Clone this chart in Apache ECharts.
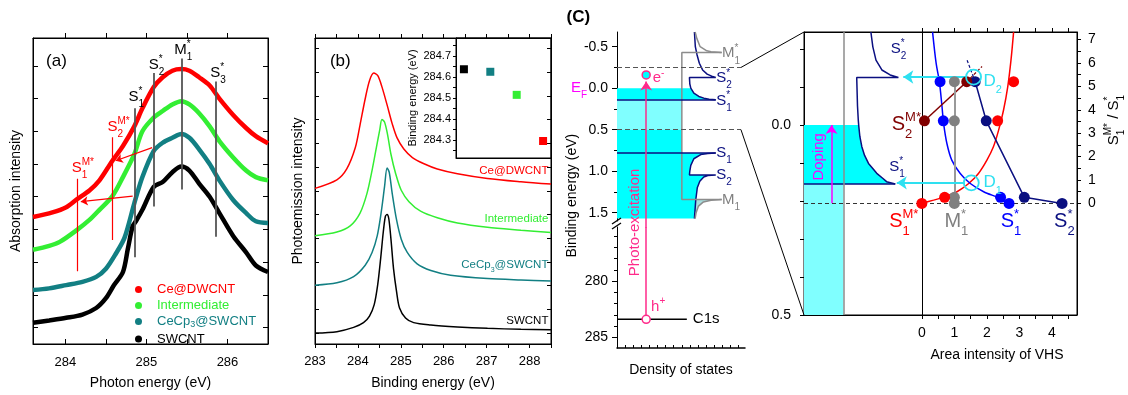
<!DOCTYPE html>
<html>
<head>
<meta charset="utf-8">
<script src="https://cdn.jsdelivr.net/npm/echarts@6/dist/echarts.min.js"></script>
<style>html,body{margin:0;padding:0;background:#fff;}#chart{width:1128px;height:395px;}</style>
</head>
<body>
<div id="chart"></div>
<script>
const FONT = '"Liberation Sans", Arial, Helvetica, sans-serif';

// ===== Panel (a): C K-edge absorption spectra [photon energy (eV), intensity (offset, arb.)] =====
const absCeDWCNT = [[283.60,3.38],[283.84,3.52],[284.01,3.68],[284.14,3.92],[284.30,4.20],[284.42,4.50],[284.58,5.10],[284.71,5.55],[284.85,6.15],[284.95,6.70],[285.09,7.35],[285.20,7.65],[285.32,7.85],[285.43,7.90],[285.53,7.85],[285.65,7.65],[285.78,7.40],[285.90,7.00],[286.07,6.50],[286.23,6.10],[286.35,5.85],[286.50,5.63]];
const absIntermediate = [[283.60,2.38],[283.80,2.50],[283.93,2.62],[284.14,2.98],[284.30,3.30],[284.42,3.60],[284.58,4.02],[284.71,4.60],[284.85,5.30],[284.95,6.00],[285.09,6.42],[285.20,6.62],[285.32,6.82],[285.43,6.92],[285.53,6.82],[285.65,6.55],[285.78,6.15],[285.90,5.70],[286.07,5.20],[286.23,4.80],[286.35,4.60],[286.50,4.50]];
const absCeCp3 = [[283.60,1.15],[283.80,1.20],[284.01,1.30],[284.21,1.40],[284.38,1.55],[284.50,1.80],[284.62,2.25],[284.73,2.75],[284.85,3.80],[284.95,4.60],[285.09,5.40],[285.20,5.65],[285.32,5.80],[285.43,5.92],[285.53,5.80],[285.65,5.45],[285.78,5.00],[285.90,4.50],[286.07,3.90],[286.23,3.50],[286.35,3.25],[286.50,3.20]];
const absSWCNT = [[283.60,0.15],[283.80,0.22],[284.01,0.30],[284.21,0.40],[284.38,0.60],[284.50,0.90],[284.60,1.30],[284.71,1.70],[284.77,2.40],[284.83,3.10],[284.87,3.25],[284.95,3.60],[285.09,4.30],[285.20,4.45],[285.32,4.75],[285.43,4.92],[285.53,4.80],[285.65,4.40],[285.78,4.00],[285.90,3.50],[286.07,2.80],[286.23,2.30],[286.35,1.90],[286.50,1.70]];
const absMarkS = [[284.85,2.15,6.70],[285.09,3.70,7.78],[285.43,4.22,8.22],[285.85,2.78,7.52]];
const absMarkSM = [[284.14,1.72,4.55],[284.58,2.68,5.82]];
const absShift = [[285.07,5.50,284.62,5.10],[284.83,4.02,284.19,3.85]];
const absXTicks = [284,284.5,285,285.5,286];
const absXLabels = [284,285,286];
const absYTicks = [0,1,2,3,4,5,6,7,8];

// ===== Panel (b): C1s photoemission [binding energy (eV), intensity (offset, arb.)] =====
const xpsCeDWCNT = [[283.00,3.05],[283.51,3.23],[283.74,3.46],[283.94,3.91],[284.05,4.39],[284.17,4.94],[284.27,5.32],[284.37,5.48],[284.46,5.43],[284.56,5.19],[284.68,4.81],[284.80,4.41],[284.91,4.12],[285.07,3.88],[285.27,3.70],[285.54,3.57],[285.85,3.46],[286.32,3.36],[287.02,3.26],[287.80,3.19],[288.50,3.14]];
const xpsIntermediate = [[283.00,2.05],[283.51,2.13],[283.82,2.26],[284.05,2.53],[284.21,2.94],[284.33,3.43],[284.43,3.91],[284.51,4.29],[284.56,4.50],[284.62,4.45],[284.69,4.19],[284.77,3.77],[284.88,3.36],[285.01,3.01],[285.19,2.77],[285.46,2.57],[285.85,2.43],[286.32,2.32],[287.02,2.23],[287.80,2.17],[288.50,2.12]];
const xpsCeCp3 = [[283.00,1.01],[283.51,1.06],[283.90,1.19],[284.17,1.43],[284.33,1.70],[284.45,2.05],[284.54,2.53],[284.62,3.08],[284.68,3.48],[284.73,3.39],[284.80,2.94],[284.90,2.39],[285.01,1.98],[285.15,1.70],[285.38,1.46],[285.70,1.32],[286.16,1.22],[287.02,1.15],[287.80,1.12],[288.50,1.10]];
const xpsSWCNT = [[283.00,0.00],[283.51,0.03],[283.90,0.12],[284.13,0.22],[284.27,0.36],[284.38,0.60],[284.46,1.01],[284.53,1.57],[284.59,2.12],[284.64,2.46],[284.68,2.50],[284.72,2.41],[284.77,1.98],[284.83,1.36],[284.90,0.88],[284.97,0.53],[285.11,0.32],[285.30,0.22],[285.70,0.17],[286.32,0.13],[287.02,0.10],[287.80,0.08],[288.50,0.07]];
const xpsXLabels = [283,284,285,286,287,288];
const xpsXTicks = [283,283.5,284,284.5,285,285.5,286,286.5,287,287.5,288,288.5];
const xpsYTicks = [0,0.5,1,1.5,2,2.5,3,3.5,4,4.5,5,5.5,6];
// inset: C1s peak position per sample
const insetSamples = ['SWCNT','CeCp3@SWCNT','Intermediate','Ce@DWCNT'];
const insetPeak = [284.637, 284.625, 284.515, 284.295];
const insetYLabels = [284.3,284.4,284.5,284.6,284.7];
const insetYTicks = [284.25,284.3,284.35,284.4,284.45,284.5,284.55,284.6,284.65,284.7,284.75];

// ===== Panel (C) left: schematic DOS [DOS (arb.), binding energy (eV)] =====
const schemCond = [[1.194,-0.677],[1.208,-0.5],[1.235,-0.4],[1.27,-0.3],[1.32,-0.22],[1.39,-0.17],[1.46,-0.145],[1.523,-0.13],[1.117,-0.13],[1.123,-0.05],[1.138,0.0],[1.185,0.06],[1.262,0.1],[1.34,0.12],[1.42,0.133],[1.523,0.14]];
const schemVal = [[1.523,0.78],[1.40,0.787],[1.292,0.80],[1.185,0.85],[1.138,0.93],[1.123,1.0],[1.117,1.045],[1.523,1.045],[1.40,1.053],[1.338,1.07],[1.277,1.12],[1.238,1.2],[1.214,1.35],[1.194,1.57]];
const schemMetal = [[1.615,-0.43],[1,-0.43],[1,1.34],[1.615,1.34]];
const schemMetalTop = [[1.615,-0.43],[1.45,-0.44],[1.385,-0.45],[1.282,-0.5],[1.231,-0.6],[1.205,-0.677]];
const schemMetalBot = [[1.615,1.34],[1.45,1.35],[1.333,1.37],[1.257,1.42],[1.22,1.5],[1.205,1.57]];
const schemLevelS1s = 0.14, schemLevelS1 = 0.78, schemFermi = 0.0, schemBottom = 1.57;
const schemWindow = [-0.25, 0.5];
const schemC1s = 283.4;
const schemExcite = [-0.08, -0.16];  // arrow tip, excited electron
const schemYLabels = [-0.5,0,0.5,1,1.5];
const schemYMinor = [-0.25,0.25,0.75,1.25];
const lowYLabels = [280,285];
const lowYMinor = [276,277,278,279,281,282,283,284];

// ===== Panel (C) right: zoomed DOS + VHS area intensities =====
const zoomNavy = [[1.70,-0.245],[1.75,-0.206],[1.83,-0.171],[1.98,-0.145],[2.19,-0.132],[2.40,-0.125],[1.34,-0.125],[1.36,-0.05],[1.38,-0.013],[1.39,0.0],[1.42,0.03],[1.47,0.057],[1.54,0.08],[1.64,0.101],[1.85,0.127],[2.0,0.14],[2.10,0.149],[2.32,0.155]];
const zoomS1s = 0.155, zoomDopeFrom = 0.206;
const zoomYLabels = [0,0.5];
const zoomYTicks = [-0.2,-0.1,0,0.1,0.2,0.3,0.4,0.5];
const vhsRatio = [0, 0.26, 3.53, 5.2];            // S1M*/S1* of the four samples
const areaS1M = [0, 0.70, 2.33, 2.82];
const areaS1 = [2.68, 2.42, 0.66, 0.56];
const areaS2 = [4.31, 3.15, 1.98, 1.64];
const areaM1 = [1, 1, 1, 1];
const areaS2M = [null, null, 0.08, 1.38];
const fitS1M = [[0,0],[0.36,0.14],[0.70,0.28],[1.08,0.50],[1.44,0.85],[1.74,1.28],[2.0,1.85],[2.2,2.42],[2.36,3.13],[2.51,3.98],[2.64,4.98],[2.74,6.12],[2.82,7.32]];
const fitS1 = [[0.33,7.32],[0.44,5.98],[0.54,5.19],[0.62,4.13],[0.67,3.41],[0.77,2.56],[0.92,1.85],[1.18,1.28],[1.49,0.85],[1.90,0.50],[2.41,0.21],[2.62,0]];
const extS2 = [[1.64,5.2],[1.37,6.2]];
const extS2M = [[1.38,5.2],[1.85,5.85]];
const pointD = [[1.52,0.88],[1.59,5.40]];
const arrowD = [[1.32,-0.77,0.88],[1.37,-0.57,5.40]];
const ratioLabels = [0,1,2,3,4,5,6,7];
const ratioTicks = [0,0.5,1,1.5,2,2.5,3,3.5,4,4.5,5,5.5,6,6.5,7];
const vhsXLabels = [0,1,2,3,4];
const vhsXTicks = [0,0.5,1,1.5,2,2.5,3,3.5,4,4.5];

const C = {red:'#ff0000', green:'#33ee33', teal:'#127f83', navy:'#0a0f80', blue:'#0000ff', dred:'#800000', gray:'#808080', lgray:'#8c8c8c',
  cyan:'#00ffff', lcyan:'#80ffff', acyan:'#2ee0f0', pink:'#ff2a8a', mag:'#ff00ff'};
const K = '#000';

function ax(o){ return Object.assign({type:'value', splitLine:{show:false}, axisLine:{show:true, onZero:false, lineStyle:{color:K,width:1}},
  axisTick:{show:false}, axisLabel:{show:false}, nameTextStyle:{fontFamily:FONT,fontSize:14,color:K}, silent:true}, o); }
function tk(vals, inside, len){ return {show:true, inside:!!inside, length:len, customValues:vals, lineStyle:{color:K,width:1}}; }
function lb(vals, fs, margin, fmt){ const o={show:true, customValues:vals, fontSize:fs, fontFamily:FONT, color:K, margin:margin}; if(fmt) o.formatter=fmt; return o; }
const dosTicks = []; for (let i=1;i<16;i++) dosTicks.push(i*0.125);

const S = [];
function line(id, xi, yi, data, color, width, extra){ S.push(Object.assign({id, type:'line', xAxisIndex:xi, yAxisIndex:yi, data, symbol:'none', showSymbol:false,
  lineStyle:{color, width}, itemStyle:{color}, silent:true, z:3}, extra||{})); }
function segs(id, xi, yi, list, color, width, extra, ltype){ S.push(Object.assign({id, type:'lines', coordinateSystem:'cartesian2d', xAxisIndex:xi, yAxisIndex:yi,
  data:list.map(c=>({coords:c})), lineStyle:{color, width, opacity:1, curveness:0, type: ltype||'solid'}, silent:true, z:4}, extra||{})); }
function poly(id, xi, yi, pts, color, z){ S.push({id, type:'custom', xAxisIndex:xi, yAxisIndex:yi, data:[pts[0]], silent:true, z:z||1,
  renderItem:(p,api)=>({type:'polygon', shape:{points:pts.map(q=>api.coord(q))}, style:{fill:color}})}); }
function dots(id, xi, yi, data, style, size, extra){ S.push(Object.assign({id, type:'scatter', xAxisIndex:xi, yAxisIndex:yi, data, symbolSize:size,
  itemStyle:Object.assign({opacity:1}, style), silent:true, z:6}, extra||{})); }

// (a)
line('abs_Ce@DWCNT',0,0,absCeDWCNT,C.red,4.5,{name:'Ce@DWCNT',smooth:0.3});
line('abs_Inter',0,0,absIntermediate,C.green,4.5,{name:'Intermediate',smooth:0.3});
line('abs_CeCp3',0,0,absCeCp3,C.teal,4.5,{name:'CeCp3@SWCNT',smooth:0.3});
line('abs_SW',0,0,absSWCNT,'#000',4.5,{name:'SWCNT',smooth:0.3});
segs('absMarkS',0,0,absMarkS.map(([x,a,b])=>[[x,a],[x,b]]),'#555',1.8);
segs('absMarkSM',0,0,absMarkSM.map(([x,a,b])=>[[x,a],[x,b]]),C.red,1.2);
segs('absShift',0,0,absShift.map(([a,b,c,d])=>[[a,b],[c,d]]),C.red,1.2,{symbol:['none','arrow'],symbolSize:7});
// (b)
line('xps_Ce',2,2,xpsCeDWCNT,C.red,1.5,{smooth:0.3});
line('xps_Inter',2,2,xpsIntermediate,C.green,1.5,{smooth:0.3});
line('xps_CeCp3',2,2,xpsCeCp3,C.teal,1.5,{smooth:0.3});
line('xps_SW',2,2,xpsSWCNT,'#000',1.5,{smooth:0.3});
const insetColors = ['#000', C.teal, C.green, C.red];
dots('inset',4,4,insetPeak.map((v,i)=>({value:[i,v], itemStyle:{color:insetColors[i]}})),{color:'#000'},8,{symbol:'rect'});
// (C) schematic upper
poly('fillCond',5,5,[[0,schemFermi]].concat(schemCond.filter(p=>p[1]>=schemFermi)).concat([[0,schemLevelS1s]]),C.cyan);
poly('fillGapL',5,5,[[0,schemLevelS1s],[1,schemLevelS1s],[1,schemWindow[1]],[0,schemWindow[1]]],C.lcyan);
poly('fillGapB',5,5,[[0,schemWindow[1]],[1,schemWindow[1]],[1,schemLevelS1],[0,schemLevelS1]],C.cyan);
poly('fillVal',5,5,[[0,schemLevelS1]].concat(schemVal).concat([[0,schemBottom]]),C.cyan);
poly('fillM1',5,5,[[1.215,1.34]].concat(schemMetalBot).concat([[1.194,1.57],[1.214,1.35]]),'#a6dede');
line('schemCond',5,5,schemCond,C.navy,1.5);
line('schemVal',5,5,schemVal,C.navy,1.5);
segs('schemLevels',5,5,[[[0,schemLevelS1s],[1.523,schemLevelS1s]],[[0,schemLevelS1],[1.523,schemLevelS1]]],C.navy,1.5);
line('schemMetal',5,5,schemMetal,C.lgray,1.5);
line('schemMetalTop',5,5,schemMetalTop,C.lgray,1.5);
line('schemMetalBot',5,5,schemMetalBot,C.lgray,1.5);
segs('schemDash',5,5,[[[0,schemWindow[0]],[1.912,schemWindow[0]]],[[0,schemWindow[1]],[1.912,schemWindow[1]]]],'#555',1.2,null,[5,3]);
segs('exciteUp',5,5,[[[0.45,1.68],[0.45,schemExcite[0]]]],C.pink,1.5,{symbol:['none','arrow'],symbolSize:9,clip:false});
dots('eDot',5,5,[[0.45,schemExcite[1]]],{color:C.cyan,borderColor:C.pink,borderWidth:1.5},8);
// (C) schematic lower
line('schemC1s',6,7,[[0,schemC1s],[1.077,schemC1s]],'#000',1.5);
segs('exciteLow',6,7,[[[0.45,schemC1s],[0.45,275.2]]],C.pink,1.5);
dots('hDot',6,7,[[0.45,schemC1s]],{color:'#fff',borderColor:C.pink,borderWidth:1.5},8);
// (C) right: zoomed DOS
poly('zoomFillB',9,9,[[0,0]].concat(zoomNavy.filter(p=>p[1]>=0)).concat([[0,zoomS1s]]),C.cyan);
poly('zoomFillL',9,9,[[0,zoomS1s],[1,zoomS1s],[1,0.5],[0,0.5]],C.lcyan);
line('zoomNavy',9,9,zoomNavy,C.navy,1.5);
segs('zoomS1',9,9,[[[0,zoomS1s],[2.32,zoomS1s]]],C.navy,1.5);
segs('zoomMetal',9,9,[[[1,-0.245],[1,0.5]]],C.lgray,1.5);
segs('doping',9,9,[[[0.70,zoomDopeFrom],[0.70,0.0]]],C.mag,1.5,{symbol:['none','arrow'],symbolSize:9});
// (C) right: VHS area intensities
segs('ratio0',7,10,[[[-3.622,0],[4.769,0]]],'#333',1,null,[4,3]);
segs('vhsZero',7,10,[[[0,-4.767],[0,7.324]]],'#000',1);
line('fitS1M',7,10,fitS1M,C.red,1.5,{smooth:0.3});
line('fitS1',7,10,fitS1,C.blue,1.5,{smooth:0.3});
segs('m1line',7,10,[[[1,vhsRatio[0]],[1,vhsRatio[3]]]],'#999',2);
line('s2path',7,10,vhsRatio.map((r,i)=>[areaS2[i],r]),C.navy,1.5);
line('s2mpath',7,10,vhsRatio.map((r,i)=>[areaS2M[i],r]).filter(p=>p[0]!==null),C.dred,1.5);
segs('extS2',7,10,[extS2],C.navy,1.2,null,[3,2]);
segs('extS2M',7,10,[extS2M],C.dred,1.2,null,[3,2]);
segs('cyanArrows',7,10,arrowD.map(([a,b,r])=>[[a,r],[b,r]]),C.acyan,2,{symbol:['none','arrow'],symbolSize:10});
dots('dM1',7,10,vhsRatio.map((r,i)=>[areaM1[i],r]),{color:C.gray},11);
dots('dS1M',7,10,vhsRatio.map((r,i)=>[areaS1M[i],r]),{color:C.red},11);
dots('dS1',7,10,vhsRatio.map((r,i)=>[areaS1[i],r]),{color:C.blue},11);
dots('dS2',7,10,vhsRatio.map((r,i)=>[areaS2[i],r]),{color:C.navy},11);
dots('dS2M',7,10,vhsRatio.map((r,i)=>[areaS2M[i],r]).filter(p=>p[0]!==null),{color:C.dred},11);
dots('dCirc',7,10,pointD,{color:'rgba(0,0,0,0)',borderColor:C.acyan,borderWidth:1.8},15,{z:8});

const option = {
  animation:false,
  textStyle:{fontFamily:FONT},
  grid:[
    {left:33, top:38, width:235, height:312, show:true, borderColor:K, borderWidth:1},
    {left:315, top:38, width:236, height:312, show:true, borderColor:K, borderWidth:1},
    {left:456, top:38, width:95, height:120, show:true, borderColor:K, borderWidth:1},
    {left:617, top:32, width:128, height:189},
    {left:617, top:227, width:128, height:121},
    {left:804, top:32, width:273, height:283, show:true, borderColor:K, borderWidth:1}
  ],
  legend:{show:true, orient:'vertical', left:130, top:278, itemWidth:27, itemHeight:7, itemGap:3, selectedMode:false,
    textStyle:{fontFamily:FONT, fontSize:13, rich:{s:{fontSize:9, fontFamily:FONT, padding:[7,0,0,0]}}},
    formatter:n=> n==='CeCp3@SWCNT' ? 'CeCp{s|3}@SWCNT' : n,
    data:[{name:'Ce@DWCNT',icon:'circle',textStyle:{color:C.red}},{name:'Intermediate',icon:'circle',textStyle:{color:C.green}},
          {name:'CeCp3@SWCNT',icon:'circle',textStyle:{color:C.teal}},{name:'SWCNT',icon:'circle',textStyle:{color:'#000'}}]},
  xAxis:[
    ax({gridIndex:0, min:283.6, max:286.5, axisTick:tk(absXTicks,true,5), axisLabel:lb(absXLabels,13,12), name:'Photon energy (eV)', nameLocation:'middle', nameGap:32}),
    ax({gridIndex:0, position:'top', min:283.6, max:286.5, axisTick:tk(absXTicks,false,5)}),
    ax({gridIndex:1, min:283, max:288.5, axisTick:tk(xpsXTicks,false,4), axisLabel:lb(xpsXLabels,13,11), name:'Binding energy (eV)', nameLocation:'middle', nameGap:32}),
    ax({gridIndex:1, position:'top', min:283, max:288.5, axisTick:tk(xpsXTicks,false,4)}),
    ax({gridIndex:2, min:-0.3, max:3.3}),
    ax({gridIndex:3, min:0, max:1.974, show:false}),
    ax({gridIndex:4, min:0, max:1.974, axisLine:{show:true,onZero:false,lineStyle:{color:K,width:1.5}}, axisTick:tk(dosTicks,true,3), name:'Density of states', nameLocation:'middle', nameGap:15}),
    ax({gridIndex:5, min:-3.622, max:4.769, axisTick:tk(vhsXTicks,false,4), axisLabel:lb(vhsXLabels,14,11)}),
    ax({gridIndex:5, position:'top', min:-3.622, max:4.769, axisTick:tk(vhsXTicks,false,4)}),
    ax({gridIndex:5, min:0, max:6.94, show:false})
  ],
  yAxis:[
    ax({gridIndex:0, min:-0.5, max:8.85, axisTick:tk(absYTicks,true,5), name:'Absorption intensity', nameLocation:'middle', nameGap:10}),
    ax({gridIndex:0, position:'right', min:-0.5, max:8.85, axisTick:tk(absYTicks,true,5)}),
    ax({gridIndex:1, min:-0.23, max:6.22, axisTick:tk(xpsYTicks,true,4), name:'Photoemission intensity', nameLocation:'middle', nameGap:10}),
    ax({gridIndex:1, position:'right', min:-0.23, max:6.22, axisTick:tk(xpsYTicks,true,4)}),
    ax({gridIndex:2, min:284.214, max:284.786, axisTick:tk(insetYTicks,false,3), axisLabel:lb(insetYLabels,11,5,v=>v.toFixed(1)),
        name:'Binding energy (eV)', nameLocation:'middle', nameGap:38, nameTextStyle:{fontFamily:FONT,fontSize:11,color:K}}),
    ax({gridIndex:3, position:'left', inverse:true, min:-0.677, max:1.6, axisTick:tk(schemYLabels,false,5), axisLabel:lb(schemYLabels,14,9,v=>v.toFixed(1))}),
    ax({gridIndex:3, position:'left', inverse:true, min:-0.677, max:1.6, axisLine:{show:false}, axisTick:tk(schemYMinor,false,3)}),
    ax({gridIndex:4, position:'left', inverse:true, min:275.2, max:285.95, axisTick:tk(lowYLabels,false,5), axisLabel:lb(lowYLabels,14,9)}),
    ax({gridIndex:4, position:'left', inverse:true, min:275.2, max:285.95, axisLine:{show:false}, axisTick:tk(lowYMinor,false,3)}),
    ax({gridIndex:5, position:'left', inverse:true, min:-0.245, max:0.5, axisTick:tk(zoomYTicks,false,4), axisLabel:lb(zoomYLabels,14,13,v=>v.toFixed(1))}),
    ax({gridIndex:5, position:'right', min:-4.767, max:7.324, axisTick:tk(ratioTicks,false,4), axisLabel:lb(ratioLabels,14,11)})
  ],
  series:S
};

const chart = echarts.init(document.getElementById('chart'), null, {renderer:'canvas', width:1128, height:395});
chart.setOption(option);

// ---- text annotations anchored to data coordinates ----
const notes = [
  // series id, x, y, text, font size, color, align, rotation(deg), bold
  ['abs_Ce@DWCNT', 283.89, 8.14, '(a)', 17, K, 'c'],
  ['abs_Ce@DWCNT', 284.84, 7.05, 'S^{*}_{1}', 15, K, 'f'],
  ['abs_Ce@DWCNT', 285.09, 8.03, 'S^{*}_{2}', 15, K, 'f'],
  ['abs_Ce@DWCNT', 285.42, 8.50, 'M^{*}_{1}', 15, K, 'f'],
  ['abs_Ce@DWCNT', 285.85, 7.78, 'S^{*}_{3}', 15, K, 'f'],
  ['abs_Ce@DWCNT', 284.58, 6.15, 'S^{M*}_{2}', 15, C.red, 'f'],
  ['abs_Ce@DWCNT', 284.14, 4.88, 'S^{M*}_{1}', 15, C.red, 'f'],
  ['xps_Ce', 283.59, 5.73, '(b)', 17, K, 'c'],
  ['xps_Ce', 288.44, 3.43, 'Ce@DWCNT', 11.5, C.red, 'r'],
  ['xps_Ce', 288.44, 2.41, 'Intermediate', 11.5, C.green, 'r'],
  ['xps_Ce', 288.44, 1.44, 'CeCp_{3}@SWCNT', 11.5, C.teal, 'r'],
  ['xps_Ce', 288.44, 0.25, 'SWCNT', 11.5, K, 'r'],
  ['schemCond', -0.595, -0.859, '(C)', 17, K, 'c', 0, true],
  ['schemCond', -0.69, 1.295, 'Binding energy (eV)', 14, K, 'c', 90],
  ['schemCond', 0.28, 1.617, 'Photo-excitation', 15, C.pink, 'c', 90],
  ['schemCond', -0.634, 0.0, 'E_{F}', 15, C.mag, 'f'],
  ['schemCond', 0.615, -0.12, 'e^{-}', 15, C.pink, 'f'],
  ['schemCond', 1.717, -0.42, 'M^{*}_{1}', 15, C.gray, 'f'],
  ['schemCond', 1.608, -0.12, 'S^{*}_{2}', 15, C.navy, 'f'],
  ['schemCond', 1.608, 0.153, 'S^{*}_{1}', 15, C.navy, 'f'],
  ['schemCond', 1.608, 0.783, 'S_{1}', 15, C.navy, 'f'],
  ['schemCond', 1.608, 1.045, 'S_{2}', 15, C.navy, 'f'],
  ['schemCond', 1.717, 1.346, 'M_{1}', 15, C.gray, 'f'],
  ['schemC1s', 1.17, 283.37, 'C1s', 15, K, 'l'],
  ['schemC1s', 0.59, 282.28, 'h^{+}', 15, C.pink, 'f'],
  ['fitS1M', -0.80, 6.62, 'S^{*}_{2}', 15, C.navy, 'f'],
  ['fitS1M', -0.72, 3.38, 'S^{M*}_{2}', 20, C.dred, 'f'],
  ['fitS1M', -0.85, 1.56, 'S^{*}_{1}', 15, C.navy, 'f'],
  ['fitS1M', -0.80, -0.78, 'S^{M*}_{1}', 20, C.red, 'f'],
  ['fitS1M', 0.95, -0.78, 'M^{*}_{1}', 20, C.gray, 'f'],
  ['fitS1M', 2.63, -0.78, 'S^{*}_{1}', 20, C.blue, 'f'],
  ['fitS1M', 4.27, -0.78, 'S^{*}_{2}', 20, C.navy, 'f'],
  ['fitS1M', 2.08, 5.23, 'D_{2}', 17, C.acyan, 'f'],
  ['fitS1M', 2.08, 0.90, 'D_{1}', 17, C.acyan, 'f'],
  ['fitS1M', -3.15, 1.99, 'Doping', 15, C.mag, 'c', 90],
  ['fitS1M', 5.89, 3.56, 'S^{M*}_{1} / S^{*}_{1}', 15, K, 'c', 90],
  ['fitS1M', 2.31, -6.47, 'Area intensity of VHS', 14, K, 'c']
];

const mctx = document.createElement('canvas').getContext('2d');
function tw(t, fs, bold){ mctx.font = (bold?'bold ':'') + fs + 'px ' + FONT; return mctx.measureText(t).width; }
function parseSegs(s){
  const out=[]; let i=0, buf='';
  while(i<s.length){
    const ch=s[i];
    if((ch==='^'||ch==='_') && s[i+1]==='{'){
      if(buf){out.push({t:buf,k:'n'}); buf='';}
      const j=s.indexOf('}',i); const t=s.slice(i+2,j); const k= ch==='^'?'sup':'sub';
      const prev=out[out.length-1];
      out.push({t, k, stack: !!(prev && prev.k!=='n' && prev.k!==k)});
      i=j+1;
    } else { buf+=ch; i++; }
  }
  if(buf) out.push({t:buf,k:'n'});
  return out;
}
function textEl(str, fs, color, px, py, align, rot, bold){
  const segs=parseSegs(str); let x=0, lastStart=0; const items=[];
  segs.forEach(s=>{
    const sz = s.k==='n' ? fs : Math.round(fs*0.64);
    const w = tw(s.t, sz, bold);
    let sx; if(s.stack){ sx=lastStart; x=Math.max(x, sx+w); } else { sx=x; x+=w; }
    lastStart=sx;
    const dy = s.k==='sup' ? -fs*0.36 : s.k==='sub' ? fs*0.5 : 0;
    items.push({t:s.t, sx, dy, sz});
  });
  const total=x, first=tw(segs[0].t, fs, bold);
  const off = align==='l'?0 : align==='r'? -total : align==='f'? -first/2 : -total/2;
  return {type:'group', x:px, y:py, rotation:rot||0, silent:true, z:100,
    children: items.map(it=>({type:'text', x:off+it.sx, y:it.dy, silent:true, z:100,
      style:{text:it.t, fill:color, font:(bold?'bold ':'')+it.sz+'px '+FONT, textAlign:'left', textVerticalAlign:'middle', align:'left', verticalAlign:'middle'}}))};
}
function px(id, v){ return chart.convertToPixel({seriesId:id}, v); }
const els = [];
notes.forEach(n=>{
  const [sid,x,y,txt,fs,col,al,rot,bold]=n;
  const p=px(sid,[x,y]);
  els.push(textEl(txt, fs, col, p[0], p[1], al, (rot||0)*Math.PI/180, bold));
});
// zoom connectors between schematic window and right panel
[[schemWindow[0], -0.245],[schemWindow[1], 0.5]].forEach(([e1,e2])=>{
  const a=px('schemCond',[1.912,e1]), b=px('zoomNavy',[0,e2]);
  els.push({type:'line', silent:true, z:100, shape:{x1:a[0],y1:a[1],x2:b[0],y2:b[1]}, style:{stroke:K, lineWidth:1}});
});
// axis break marks
const bk = px('schemCond',[0,1.6]);
[0,5].forEach(d=>els.push({type:'line', silent:true, z:100, shape:{x1:bk[0]-5,y1:bk[1]+3+d,x2:bk[0]+4,y2:bk[1]-3+d}, style:{stroke:K, lineWidth:1.3}}));
chart.setOption({graphic:{elements:els}});
</script>
</body>
</html>
